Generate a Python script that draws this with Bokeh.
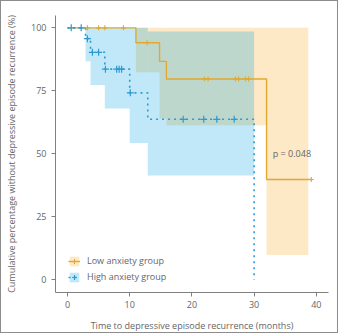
from bokeh.plotting import figure
from bokeh.models import (ColumnDataSource, Legend, LegendItem, Label,
                          FixedTicker, Range1d)
from bokeh.embed import file_html
from bokeh.resources import INLINE

# Kaplan-Meier estimates (percent without recurrence) per group
low_time = [0, 11.0, 14.8, 15.9, 32.0, 39.2]
low_surv = [100, 94.1, 86.7, 79.7, 39.8, 39.8]
low_ci_time = [11.0, 14.8, 15.9, 32.0, 38.7]
low_ci_lower = [82.4, 64.0, 61.3, 9.8]
low_ci_upper = [100, 100, 100, 100]
low_censor = [3.2, 5.0, 6.0, 9.0, 12.8, 22.0, 22.6, 27.0, 27.5, 28.6, 29.1, 39.2]

high_time = [0, 2.9, 3.7, 6.0, 10.0, 12.9, 30.0]
high_surv = [100, 95.7, 90.3, 83.6, 74.2, 63.7, 0]
high_ci_time = [2.9, 3.7, 6.0, 10.0, 12.9, 30.0]
high_ci_lower = [86.7, 77.3, 68.0, 54.3, 41.4]
high_ci_upper = [100, 100, 100, 100, 98.5]
high_censor = [0.6, 2.2, 3.2, 4.0, 5.0, 6.1, 7.9, 8.3, 8.7, 10.1, 18.6, 21.9, 24.0, 26.8]

x_ticks = [0, 10, 20, 30, 40]
y_ticks = [0, 25, 50, 75, 100]
group_labels = ["Low anxiety group", "High anxiety group"]
p_text = "p = 0.048"

FONT = "Open Sans"
TEXT = "#666666"
LOW_LINE = "#E2A92E"
LOW_FILL = "#F7A717"
HIGH_LINE = "#2E9AD0"
HIGH_FILL = "#03A3E3"


def surv_at(times, surv, t):
    """Value of the step curve at time t (right-continuous)."""
    v = surv[0]
    for ti, si in zip(times, surv):
        if ti <= t:
            v = si
    return v


def band_source(edges, lower, upper):
    return ColumnDataSource(dict(left=edges[:-1], right=edges[1:],
                                 bottom=lower, top=upper))


p = figure(width=338, height=333,
           x_range=Range1d(-1.93, 41.96), y_range=Range1d(-5.07, 104.9),
           output_backend="svg", toolbar_location=None,
           min_border_left=54, min_border_right=11,
           min_border_top=14, min_border_bottom=37)
p.styles = {"border": "1px solid #8c8c8c"}
p.xgrid.visible = False
p.ygrid.visible = False
p.outline_line_color = None
p.background_fill_color = "white"

for ax in (p.xaxis[0], p.yaxis[0]):
    ax.axis_line_color = "#808080"
    ax.axis_line_width = 1
    ax.major_tick_line_color = "#808080"
    ax.major_tick_out = 4
    ax.major_tick_in = 0
    ax.minor_tick_line_color = None
    ax.major_label_text_font = FONT
    ax.major_label_text_font_size = "9px"
    ax.major_label_text_color = TEXT
    ax.axis_label_text_font = FONT
    ax.axis_label_text_font_size = "9px"
    ax.axis_label_text_color = TEXT
    ax.axis_label_text_font_style = "normal"

p.xaxis.ticker = FixedTicker(ticks=x_ticks)
p.yaxis.ticker = FixedTicker(ticks=y_ticks)
p.xaxis.major_label_standoff = 4
p.yaxis.major_label_standoff = 5
p.xaxis.axis_label = "Time to depressive episode recurrence (months)"
p.yaxis.axis_label = "Cumulative percentage without depressive episode recurrence (%)"
p.xaxis.axis_label_standoff = 8
p.yaxis.axis_label_standoff = 10

# confidence bands
low_band = p.quad(source=band_source(low_ci_time, low_ci_lower, low_ci_upper),
                  left="left", right="right", bottom="bottom", top="top",
                  fill_color=LOW_FILL, fill_alpha=0.25, line_color=None)
high_band = p.quad(source=band_source(high_ci_time, high_ci_lower, high_ci_upper),
                   left="left", right="right", bottom="bottom", top="top",
                   fill_color=HIGH_FILL, fill_alpha=0.25, line_color=None)

# survival curves
low_line = p.step(low_time, low_surv, mode="after",
                  line_color=LOW_LINE, line_width=1.4)
high_line = p.step(high_time, high_surv, mode="after",
                   line_color=HIGH_LINE, line_width=1.6, line_dash="2 4")

# censoring marks
low_cy = [surv_at(low_time, low_surv, t) for t in low_censor]
high_cy = [surv_at(high_time, high_surv, t) for t in high_censor]
low_marks = p.scatter(low_censor, low_cy, marker="cross", size=5,
                      line_color=LOW_LINE, line_width=1.1)
high_marks = p.scatter(high_censor, high_cy, marker="cross", size=7,
                       line_color=HIGH_LINE, line_width=1.2)

p.add_layout(Label(x=33, y=50, text=p_text, text_font=FONT,
                   text_font_size="9px", text_color=TEXT,
                   text_baseline="middle", text_align="left"))

legend = Legend(items=[
    LegendItem(label=group_labels[0], renderers=[low_band, low_line, low_marks]),
    LegendItem(label=group_labels[1], renderers=[high_band, high_line, high_marks]),
], location=(13, 9))
legend.margin = 0
legend.padding = 0
legend.spacing = 3
legend.glyph_width = 12
legend.glyph_height = 12
legend.label_height = 12
legend.label_standoff = 7
legend.label_text_font = FONT
legend.label_text_font_size = "9px"
legend.label_text_color = TEXT
legend.border_line_color = None
legend.background_fill_alpha = 0
p.add_layout(legend)

open("out.html", "w").write(file_html(p, INLINE))
